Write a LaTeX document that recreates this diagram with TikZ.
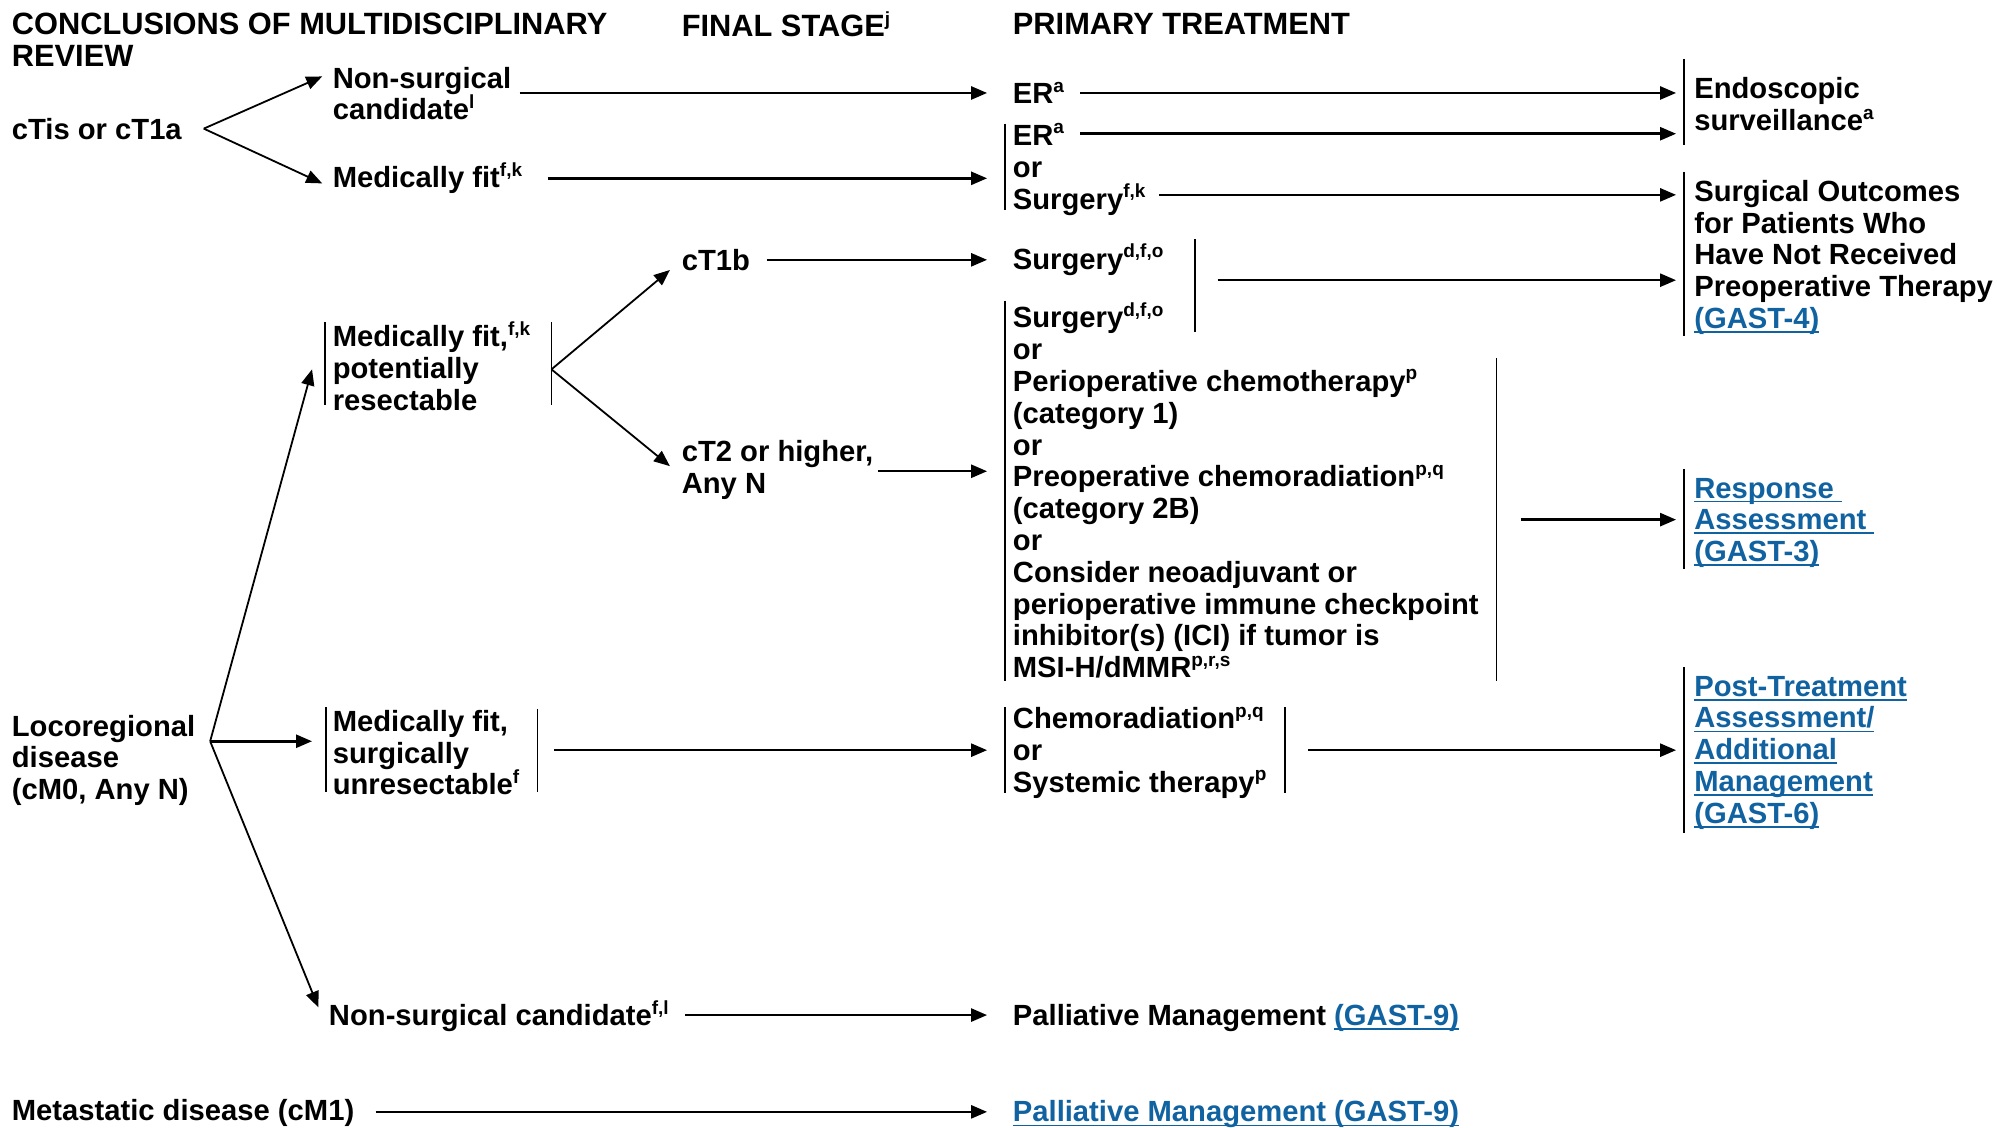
\documentclass[tikz,border=0pt]{standalone}
\usepackage{fontspec}
\setmainfont{Liberation Sans}
\usetikzlibrary{arrows.meta}
\definecolor{lnkblue}{RGB}{16,98,160}
\newcommand\sps[1]{\raisebox{5.8pt}{\fontsize{9.5}{9.5}\selectfont #1}}
\newcommand\lnk[1]{{\color{lnkblue}\setbox0\hbox{#1}\rlap{\rule[-2.2pt]{\wd0}{0.9pt}}\box0}}
\begin{document}
\begin{tikzpicture}[x=0.6368pt,y=-0.6368pt,
  every node/.style={font=\fontsize{14.6}{15.9}\selectfont\bfseries, inner sep=0pt, anchor=west, align=left},
  head/.style={font=\fontsize{15.4}{15.9}\selectfont\bfseries},
  arr/.style={-{Triangle[length=8pt,width=6.5pt]}, line width=1.25pt},
  darr/.style={-{Triangle[length=8pt,width=6.5pt]}, line width=0.9pt},
  bar/.style={line width=0.9pt},
  toT/.style={shorten >=12.7pt},
  toR/.style={shorten >=8.9pt}]
\useasboundingbox (0,0) rectangle (1568,885);
% headers
\node[head] (h1) at (9,31.5) {CONCLUSIONS OF MULTIDISCIPLINARY\\REVIEW};
\node[head] (h2) at (535,19) {FINAL STAGE\sps{j}};
\node[head] (h3) at (795,19) {PRIMARY TREATMENT};
% nodes
\node (ctis) at (9,101) {cTis or cT1a};
\node (ns1) at (261,73.5) {Non-surgical\\candidate\sps{l}};
\node (mf1) at (261,140) {Medically fit\sps{f,k}};
\node (er1) at (795,73) {ER\sps{a}};
\node (ersurg) at (795,133) {ER\sps{a}\\or\\Surgery\sps{f,k}};
\node (endo) at (1330,82) {Endoscopic\\surveillance\sps{a}};
\node (surgout) at (1330,202) {Surgical Outcomes\\for Patients Who\\Have Not Received\\Preoperative Therapy\\\lnk{(GAST-4)}};
\node (mfpr) at (261,287.5) {Medically fit,\sps{f,k}\\potentially\\resectable};
\node (ct1b) at (535,204) {cT1b};
\node (ct2) at (535,369) {cT2 or higher,\\Any N};
\node (surg1) at (795,204) {Surgery\sps{d,f,o}};
\node (big) at (795,385) {Surgery\sps{d,f,o}\\or\\Perioperative chemotherapy\sps{p}\\(category 1)\\or\\Preoperative chemoradiation\sps{p,q}\\(category 2B)\\or\\Consider neoadjuvant or\\perioperative immune checkpoint\\inhibitor(s) (ICI) if tumor is\\MSI-H/dMMR\sps{p,r,s}};
\node (resp) at (1330,410.5) {\lnk{Response\ }\\\lnk{Assessment\ }\\\lnk{(GAST-3)}};
\node (loco) at (9,597) {Locoregional\\disease\\(cM0, Any N)};
\node (mfsu) at (261,591) {Medically fit,\\surgically\\unresectable\sps{f}};
\node (chemo) at (795,591) {Chemoradiation\sps{p,q}\\or\\Systemic therapy\sps{p}};
\node (post) at (1330,591) {\lnk{Post-Treatment}\\\lnk{Assessment/}\\\lnk{Additional}\\\lnk{Management}\\\lnk{(GAST-6)}};
\node (nsc) at (258,798) {Non-surgical candidate\sps{f,l}};
\node (pal1) at (795,799) {Palliative Management \lnk{(GAST-9)}};
\node (meta) at (9,874) {Metastatic disease (cM1)};
\node (pal2) at (795,875) {\lnk{Palliative Management (GAST-9)}};
% ports
\coordinate (ctis-o) at (160,101);
\coordinate (ersurg-a) at (848,105);
\coordinate (ersurg-b) at (910,153);
\coordinate (mfpr-o) at (433,290);
\coordinate (surg-o) at (956,220);
\coordinate (big-o) at (1194,408);
\coordinate (loco-o) at (165,582);
% bars
\draw[bar] (789,97) -- (789,165);
\draw[bar] (1322,46) -- (1322,114);
\draw[bar] (1322,135) -- (1322,264);
\draw[bar] (255,253) -- (255,318);
\draw[bar] (433,253) -- (433,318);
\draw[bar] (938,188) -- (938,261);
\draw[bar] (789,236) -- (789,535);
\draw[bar] (1175,281) -- (1175,535);
\draw[bar] (1322,368) -- (1322,447);
\draw[bar] (256,555) -- (256,622);
\draw[bar] (422,557) -- (422,622);
\draw[bar] (789,555) -- (789,623);
\draw[bar] (1009,555) -- (1009,623);
\draw[bar] (1322,524) -- (1322,654);
% connectors
\draw[darr] (ctis-o) -- ([shift={(-8,-13.5)}]ns1.west);
\draw[darr] (ctis-o) -- ([shift={(-8,4)}]mf1.west);
\draw[arr,toT] (er1.west -| 408,0) -- (er1.west -| 795,0);
\draw[arr,toT] (mf1.east -| 430,0) -- (mf1.east -| ersurg.west);
\draw[arr,toR] (er1.east -| 848,0) -- (er1.east -| endo.west);
\draw[arr,toR] (ersurg-a) -- (ersurg-a -| endo.west);
\draw[arr,toR] (ersurg-b) -- (ersurg-b -| surgout.west);
\draw[darr] (mfpr-o) -- ([shift={(-9,8)}]ct1b.west);
\draw[darr] (mfpr-o) -- ([shift={(-9,-3)}]ct2.west);
\draw[arr,toT] ([yshift=-0.64pt]ct2.east -| 689,0) -- ([yshift=-0.64pt]ct2.east -| big.west);
\draw[arr,toT] (ct1b.east -| 602,0) -- (ct1b.east -| surg1.west);
\draw[arr,toR] (surg-o) -- (surg-o -| surgout.west);
\draw[arr,toR] (big-o) -- (big-o -| resp.west);
\draw[darr] (loco-o) -- ([shift={(-16,2.5)}]mfpr.west);
\draw[arr] (loco-o) -- ([shift={(-16,-9)}]mfsu.west);
\draw[darr] (loco-o) -- ([shift={(-8,-7)}]nsc.west);
\draw[arr,toT] ([yshift=1.27pt]mfsu.east -| 435,0) -- ([yshift=1.27pt]mfsu.east -| chemo.west);
\draw[arr,toR] ([yshift=1.27pt]chemo.east -| 1027,0) -- ([yshift=1.27pt]chemo.east -| post.west);
\draw[arr,toT] ([yshift=0.64pt]nsc.east -| 538,0) -- ([yshift=0.64pt]nsc.east -| pal1.west);
\draw[arr,toT] ([yshift=0.64pt]meta.east -| 295,0) -- ([yshift=0.64pt]meta.east -| pal2.west);
\end{tikzpicture}
\end{document}
